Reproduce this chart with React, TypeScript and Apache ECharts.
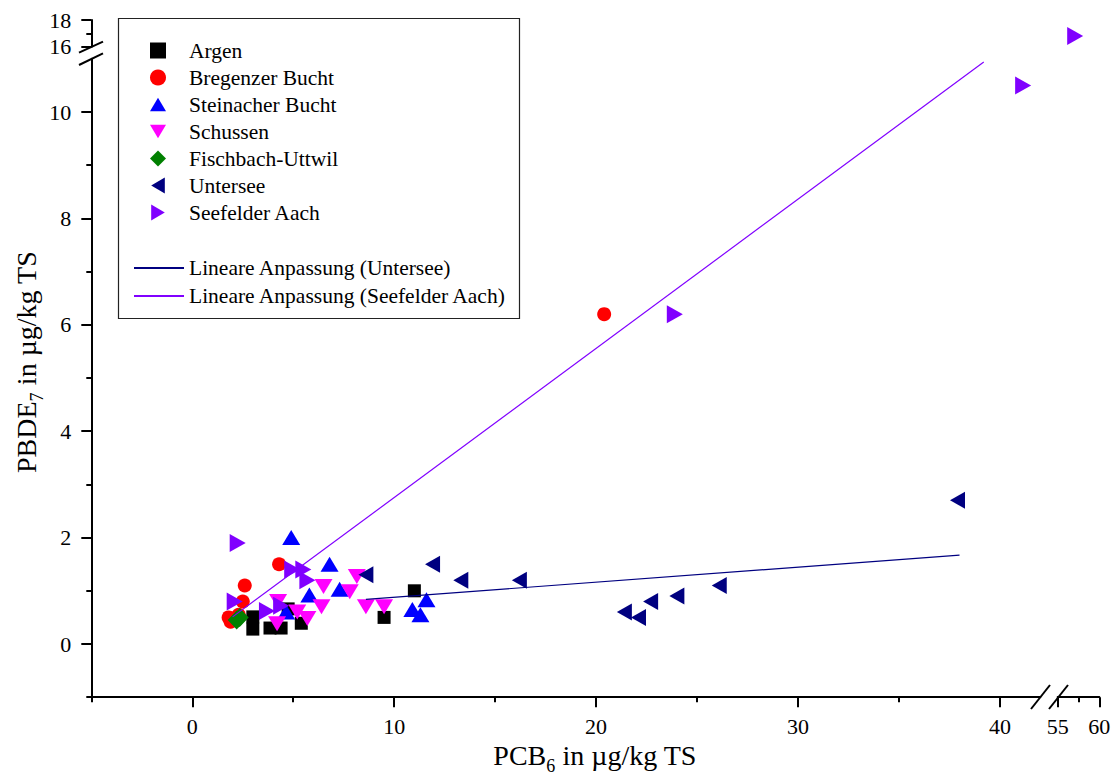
import React, { useEffect, useRef } from 'react';
import * as echarts from 'echarts';

const FONT = '"Liberation Serif", "Times New Roman", serif';

// ---- data (PCB6, PBDE7) in µg/kg TS ----
const argen = [[3.0, 0.51], [3.0, 0.28], [3.85, 0.3], [4.4, 0.3], [4.75, 0.66], [5.4, 0.39], [9.5, 0.5], [11.0, 1.0]];
const bregenzerBucht = [[1.8, 0.5], [1.9, 0.42], [2.3, 0.55], [2.5, 0.8], [2.6, 1.1], [4.3, 1.5], [20.4, 6.2]];
const steinacherBucht = [[4.9, 2.0], [6.8, 1.5], [5.8, 0.92], [7.3, 1.03], [4.65, 0.6], [10.9, 0.65], [11.3, 0.55], [11.6, 0.83]];
const schussen = [[4.25, 0.8], [4.2, 0.38], [5.2, 0.6], [5.7, 0.48], [6.4, 0.7], [6.5, 1.08], [7.8, 0.98], [8.15, 1.27], [8.6, 0.7], [9.5, 0.7]];
const fischbachUttwil = [[2.2, 0.45], [2.35, 0.5]];
const untersee = [[8.6, 1.3], [11.9, 1.5], [13.3, 1.2], [16.2, 1.2], [21.4, 0.6], [22.1, 0.5], [22.7, 0.8], [24.0, 0.9], [26.1, 1.1], [37.9, 2.7]];
const seefelderAach = [[2.25, 1.9], [4.95, 1.4], [5.5, 1.4], [5.7, 1.2], [2.1, 0.8], [3.7, 0.62], [4.4, 0.72], [23.9, 6.2], [41.15, 10.5], [57.1, 16.8]];
const fitUntersee = [[8.6, 0.84], [38.0, 1.67]];
const fitSeefelder = [[2.0, 0.51], [39.2, 10.94]];

// ---- axes (broken) ----
const xRangeLow = [-5, 42];
const xRangeHigh = [55, 60];
const yRangeLow = [-1, 11];
const yRangeHigh = [16, 18];
const xTicksLow = [0, 10, 20, 30, 40];
const xMinorLow = [-5, 5, 15, 25, 35];
const xTicksHigh = [55, 60];
const xMinorHigh = [57.5];
const yTicksLow = [0, 2, 4, 6, 8, 10];
const yMinorLow = [-1, 1, 3, 5, 7, 9];
const yTicksHigh = [16, 18];
const yMinorHigh = [17];

const names = ['Argen', 'Bregenzer Bucht', 'Steinacher Bucht', 'Schussen', 'Fischbach-Uttwil', 'Untersee', 'Seefelder Aach'];
const fitNames = ['Lineare Anpassung (Untersee)', 'Lineare Anpassung (Seefelder Aach)'];

const SYM_SQUARE = 'path://M0,0L10,0L10,10L0,10Z';
const SYM_UP = 'path://M10,0L20,17L0,17Z';
const SYM_DOWN = 'path://M0,0L20,0L10,17Z';
const SYM_DIAMOND = 'path://M10,0L20,10L10,20L0,10Z';
const SYM_LEFT = 'path://M17,0L17,20L0,10Z';
const SYM_RIGHT = 'path://M0,0L17,10L0,20Z';

const inLow = (p: number[]) => p[0] <= xRangeLow[1] && p[1] <= yRangeLow[1];

function mainAxis(gridIndex: number, range: number[], ticks: number[], position: string, margin: number) {
  return {
    type: 'value', gridIndex, min: range[0], max: range[1], position,
    axisLine: { show: true, onZero: false, lineStyle: { color: '#000', width: 2 } },
    axisTick: { show: true, customValues: ticks, length: 10, lineStyle: { color: '#000', width: 2 } },
    axisLabel: { show: true, customValues: ticks, margin, fontFamily: FONT, fontSize: 22, color: '#000' },
    splitLine: { show: false },
  };
}
function minorAxis(gridIndex: number, range: number[], ticks: number[], position: string) {
  return {
    type: 'value', gridIndex, min: range[0], max: range[1], position,
    axisLine: { show: false, onZero: false },
    axisTick: { show: true, customValues: ticks, length: 5, lineStyle: { color: '#000', width: 2 } },
    axisLabel: { show: false },
    splitLine: { show: false },
  };
}
function hiddenAxis(gridIndex: number, range: number[]) {
  return { type: 'value', gridIndex, min: range[0], max: range[1], show: false, axisLine: { onZero: false }, splitLine: { show: false } };
}

const richTitle = {
  a: { fontFamily: FONT, fontSize: 28, lineHeight: 40, verticalAlign: 'middle', fill: '#000', color: '#000' },
  s: { fontFamily: FONT, fontSize: 18, lineHeight: 16, verticalAlign: 'bottom', fill: '#000', color: '#000' },
};

export default function App() {
  const ref = useRef<HTMLDivElement>(null);
  useEffect(() => {
    const chart = echarts.init(ref.current!, null, { renderer: 'svg' });
    const scatter = (name: string, data: number[][], symbol: string, size: any, color: string, xi = 0, yi = 0) => ({
      name, type: 'scatter', data, symbol, symbolSize: size, xAxisIndex: xi, yAxisIndex: yi,
      itemStyle: { color, opacity: 1 }, emphasis: { disabled: true },
    });
    const option: any = {
      animation: false,
      backgroundColor: '#fff',
      grid: [
        { left: 91.3, top: 58.8, width: 949, height: 638.4, outerBoundsMode: 'none', containLabel: false },
        { left: 1057.7, top: 58.8, width: 41.6, height: 638.4, outerBoundsMode: 'none', containLabel: false },
        { left: 91.3, top: 20, width: 949, height: 26.6, outerBoundsMode: 'none', containLabel: false },
        { left: 1057.7, top: 20, width: 41.6, height: 26.6, outerBoundsMode: 'none', containLabel: false },
      ],
      xAxis: [
        mainAxis(0, xRangeLow, xTicksLow, 'bottom', 18),
        minorAxis(0, xRangeLow, xMinorLow, 'bottom'),
        mainAxis(1, xRangeHigh, xTicksHigh, 'bottom', 18),
        minorAxis(1, xRangeHigh, xMinorHigh, 'bottom'),
        hiddenAxis(2, xRangeLow),
        hiddenAxis(3, xRangeHigh),
      ],
      yAxis: [
        mainAxis(0, yRangeLow, yTicksLow, 'left', 20),
        minorAxis(0, yRangeLow, yMinorLow, 'left'),
        mainAxis(2, yRangeHigh, yTicksHigh, 'left', 20),
        minorAxis(2, yRangeHigh, yMinorHigh, 'left'),
        hiddenAxis(1, yRangeLow),
        hiddenAxis(3, yRangeHigh),
      ],
      legend: [
        {
          orient: 'vertical', left: 150, top: 37, padding: 0, itemGap: 0, itemWidth: 16, itemHeight: 16,
          data: names, selectedMode: false,
          textStyle: { fontFamily: FONT, fontSize: 21.5, color: '#000', lineHeight: 27, padding: [0, 0, 0, 18] },
        },
        {
          orient: 'vertical', left: 133, top: 254, padding: 0, itemGap: 0, itemWidth: 50, itemHeight: 16,
          data: fitNames.map((n) => ({ name: n, itemStyle: { opacity: 0 } })), selectedMode: false,
          textStyle: { fontFamily: FONT, fontSize: 21.5, color: '#000', lineHeight: 28 },
        },
      ],
      series: [
        scatter(names[0], argen, SYM_SQUARE, 13, '#000000'),
        scatter(names[1], bregenzerBucht, 'circle', 14, '#ff0000'),
        scatter(names[2], steinacherBucht, SYM_UP, [18, 15], '#0000ff'),
        scatter(names[3], schussen, SYM_DOWN, [18, 15], '#ff00ff'),
        scatter(names[4], fischbachUttwil, SYM_DIAMOND, [18, 19], '#008000'),
        scatter(names[5], untersee, SYM_LEFT, [15, 17], '#000080'),
        scatter(names[6], seefelderAach.filter(inLow), SYM_RIGHT, [16, 18], '#8000ff'),
        scatter(names[6], seefelderAach.filter((p) => !inLow(p)), SYM_RIGHT, [16, 18], '#8000ff', 5, 5),
        {
          name: fitNames[0], type: 'line', data: fitUntersee, symbol: 'none', showSymbol: false, xAxisIndex: 0, yAxisIndex: 0,
          lineStyle: { color: '#000080', width: 1.2 }, itemStyle: { color: '#000080' }, emphasis: { disabled: true },
        },
        {
          name: fitNames[1], type: 'line', data: fitSeefelder, symbol: 'none', showSymbol: false, xAxisIndex: 0, yAxisIndex: 0,
          lineStyle: { color: '#8000ff', width: 1.2 }, itemStyle: { color: '#8000ff' }, emphasis: { disabled: true },
        },
      ],
      graphic: [
        { type: 'rect', silent: true, shape: { x: 118.5, y: 18.5, width: 401, height: 300 }, style: { fill: 'none', stroke: '#222', lineWidth: 1.2 } },
        { type: 'line', shape: { x1: 1031, y1: 709, x2: 1050, y2: 685 }, style: { stroke: '#000', lineWidth: 2 } },
        { type: 'line', shape: { x1: 1049, y1: 709, x2: 1068, y2: 685 }, style: { stroke: '#000', lineWidth: 2 } },
        { type: 'line', shape: { x1: 79, y1: 52.7, x2: 103, y2: 41.7 }, style: { stroke: '#000', lineWidth: 2 } },
        { type: 'line', shape: { x1: 79, y1: 65, x2: 103, y2: 53.3 }, style: { stroke: '#000', lineWidth: 2 } },
        {
          type: 'text', x: 595, y: 755,
          style: { text: '{a|PCB}{s|6}{a| in µg/kg TS}', rich: richTitle, align: 'center', verticalAlign: 'middle', fill: '#000' },
        },
        {
          type: 'text', x: 26, y: 362, rotation: Math.PI / 2,
          style: { text: '{a|PBDE}{s|7}{a| in µg/kg TS}', rich: richTitle, align: 'center', verticalAlign: 'middle', fill: '#000' },
        },
      ],
    };
    chart.setOption(option);
    return () => chart.dispose();
  }, []);
  return <div ref={ref} style={{ position: 'fixed', left: 0, top: 0, width: 1116, height: 776, background: '#fff' }} />;
}
